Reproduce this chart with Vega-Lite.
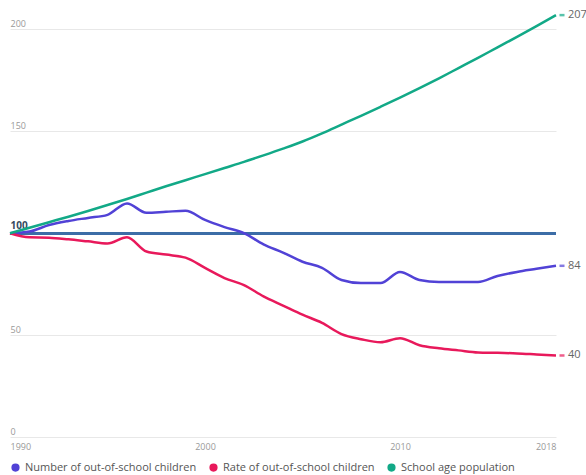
{
  "$schema": "https://vega.github.io/schema/vega-lite/v6.json",
  "autosize": "none",
  "width": 546,
  "height": 428,
  "padding": {"left": 10, "top": 9, "right": 30, "bottom": 38},
  "config": {
    "font": "Open Sans",
    "view": {"stroke": null},
    "axisY": {
      "title": null,
      "grid": true,
      "gridColor": {"condition": {"test": "datum.value === 100", "value": "transparent"}, "value": "#e8e8e8"},
      "gridWidth": 1,
      "domain": false, "ticks": false, "tickSize": 0,
      "labelAlign": "left", "labelBaseline": "bottom", "labelPadding": 0,
      "labelOffset": {"condition": {"test": "datum.value === 100", "value": -3}, "value": -1},
      "labelFontSize": {"condition": {"test": "datum.value === 100", "value": 10}, "value": 9},
      "labelColor": {"condition": {"test": "datum.value === 100", "value": "#34495e"}, "value": "#999999"},
      "labelFontWeight": {"condition": {"test": "datum.value === 100", "value": "bold"}, "value": "normal"},
      "zindex": 1
    }
  },
  "data": {
    "values": [
      {"year": 1990, "series": "Number of out-of-school children", "value": 100},
      {"year": 1991, "series": "Number of out-of-school children", "value": 100.8},
      {"year": 1992, "series": "Number of out-of-school children", "value": 104},
      {"year": 1993, "series": "Number of out-of-school children", "value": 106},
      {"year": 1994, "series": "Number of out-of-school children", "value": 107.5},
      {"year": 1995, "series": "Number of out-of-school children", "value": 109},
      {"year": 1996, "series": "Number of out-of-school children", "value": 114.6},
      {"year": 1997, "series": "Number of out-of-school children", "value": 110},
      {"year": 1998, "series": "Number of out-of-school children", "value": 110.5},
      {"year": 1999, "series": "Number of out-of-school children", "value": 111},
      {"year": 2000, "series": "Number of out-of-school children", "value": 106.5},
      {"year": 2001, "series": "Number of out-of-school children", "value": 103},
      {"year": 2002, "series": "Number of out-of-school children", "value": 100},
      {"year": 2003, "series": "Number of out-of-school children", "value": 94.5},
      {"year": 2004, "series": "Number of out-of-school children", "value": 90.5},
      {"year": 2005, "series": "Number of out-of-school children", "value": 86},
      {"year": 2006, "series": "Number of out-of-school children", "value": 83},
      {"year": 2007, "series": "Number of out-of-school children", "value": 77},
      {"year": 2008, "series": "Number of out-of-school children", "value": 75.5},
      {"year": 2009, "series": "Number of out-of-school children", "value": 75.5},
      {"year": 2010, "series": "Number of out-of-school children", "value": 81},
      {"year": 2011, "series": "Number of out-of-school children", "value": 77},
      {"year": 2012, "series": "Number of out-of-school children", "value": 76},
      {"year": 2013, "series": "Number of out-of-school children", "value": 76},
      {"year": 2014, "series": "Number of out-of-school children", "value": 76},
      {"year": 2015, "series": "Number of out-of-school children", "value": 79},
      {"year": 2016, "series": "Number of out-of-school children", "value": 81},
      {"year": 2017, "series": "Number of out-of-school children", "value": 82.5},
      {"year": 2018, "series": "Number of out-of-school children", "value": 84},
      {"year": 1990, "series": "Rate of out-of-school children", "value": 100},
      {"year": 1991, "series": "Rate of out-of-school children", "value": 98},
      {"year": 1992, "series": "Rate of out-of-school children", "value": 97.8},
      {"year": 1993, "series": "Rate of out-of-school children", "value": 97},
      {"year": 1994, "series": "Rate of out-of-school children", "value": 96},
      {"year": 1995, "series": "Rate of out-of-school children", "value": 95},
      {"year": 1996, "series": "Rate of out-of-school children", "value": 98},
      {"year": 1997, "series": "Rate of out-of-school children", "value": 91},
      {"year": 1998, "series": "Rate of out-of-school children", "value": 89.5},
      {"year": 1999, "series": "Rate of out-of-school children", "value": 88},
      {"year": 2000, "series": "Rate of out-of-school children", "value": 83},
      {"year": 2001, "series": "Rate of out-of-school children", "value": 78},
      {"year": 2002, "series": "Rate of out-of-school children", "value": 74.5},
      {"year": 2003, "series": "Rate of out-of-school children", "value": 69},
      {"year": 2004, "series": "Rate of out-of-school children", "value": 64.5},
      {"year": 2005, "series": "Rate of out-of-school children", "value": 60},
      {"year": 2006, "series": "Rate of out-of-school children", "value": 56},
      {"year": 2007, "series": "Rate of out-of-school children", "value": 50.5},
      {"year": 2008, "series": "Rate of out-of-school children", "value": 48},
      {"year": 2009, "series": "Rate of out-of-school children", "value": 46.5},
      {"year": 2010, "series": "Rate of out-of-school children", "value": 48.5},
      {"year": 2011, "series": "Rate of out-of-school children", "value": 45},
      {"year": 2012, "series": "Rate of out-of-school children", "value": 43.5},
      {"year": 2013, "series": "Rate of out-of-school children", "value": 42.5},
      {"year": 2014, "series": "Rate of out-of-school children", "value": 41.5},
      {"year": 2015, "series": "Rate of out-of-school children", "value": 41.3},
      {"year": 2016, "series": "Rate of out-of-school children", "value": 41},
      {"year": 2017, "series": "Rate of out-of-school children", "value": 40.5},
      {"year": 2018, "series": "Rate of out-of-school children", "value": 40},
      {"year": 1990, "series": "School age population", "value": 100},
      {"year": 1991, "series": "School age population", "value": 102.7},
      {"year": 1992, "series": "School age population", "value": 105.4},
      {"year": 1993, "series": "School age population", "value": 108.1},
      {"year": 1994, "series": "School age population", "value": 110.9},
      {"year": 1995, "series": "School age population", "value": 113.8},
      {"year": 1996, "series": "School age population", "value": 116.8},
      {"year": 1997, "series": "School age population", "value": 119.9},
      {"year": 1998, "series": "School age population", "value": 123},
      {"year": 1999, "series": "School age population", "value": 126},
      {"year": 2000, "series": "School age population", "value": 129},
      {"year": 2001, "series": "School age population", "value": 132},
      {"year": 2002, "series": "School age population", "value": 135},
      {"year": 2003, "series": "School age population", "value": 138.2},
      {"year": 2004, "series": "School age population", "value": 141.5},
      {"year": 2005, "series": "School age population", "value": 145},
      {"year": 2006, "series": "School age population", "value": 149},
      {"year": 2007, "series": "School age population", "value": 153.3},
      {"year": 2008, "series": "School age population", "value": 157.6},
      {"year": 2009, "series": "School age population", "value": 162},
      {"year": 2010, "series": "School age population", "value": 166.5},
      {"year": 2011, "series": "School age population", "value": 171.2},
      {"year": 2012, "series": "School age population", "value": 176},
      {"year": 2013, "series": "School age population", "value": 181},
      {"year": 2014, "series": "School age population", "value": 186},
      {"year": 2015, "series": "School age population", "value": 191.2},
      {"year": 2016, "series": "School age population", "value": 196.3},
      {"year": 2017, "series": "School age population", "value": 201.6},
      {"year": 2018, "series": "School age population", "value": 207}
    ]
  },
  "layer": [
    {
      "mark": {"type": "rule", "color": "#3c6ea6", "strokeWidth": 2},
      "encoding": {
        "y": {"datum": 100, "type": "quantitative", "scale": {"domain": [0, 210], "nice": false}, "axis": {"title": null, "values": [0, 50, 100, 150, 200]}}
      }
    },
    {
      "mark": {"type": "line", "strokeWidth": 2.5, "interpolate": "monotone"},
      "encoding": {
        "x": {
          "field": "year", "type": "quantitative",
          "scale": {"domain": [1990, 2018], "nice": false, "zero": false},
          "axis": {
            "title": null, "values": [1990, 2000, 2010, 2018], "format": "d",
            "labelFlush": true, "grid": false, "domain": false, "ticks": false,
            "labelPadding": 5, "labelColor": "#999999", "labelFontSize": 9
          }
        },
        "y": {
          "field": "value", "type": "quantitative",
          "scale": {"domain": [0, 210], "nice": false},
          "axis": {"title": null, "values": [0, 50, 100, 150, 200]}
        },
        "color": {
          "field": "series", "type": "nominal",
          "scale": {
            "domain": ["Number of out-of-school children", "Rate of out-of-school children", "School age population"],
            "range": ["#5142d6", "#e8195b", "#12a987"]
          },
          "legend": {
            "title": null, "orient": "bottom", "direction": "horizontal",
            "symbolType": "circle", "symbolSize": 45, "labelFontSize": 11, "labelLimit": 400,
            "labelColor": "#555555", "columnPadding": 10, "offset": 11, "symbolOpacity": 1
          }
        }
      }
    },
    {
      "transform": [{"filter": "datum.year == 2018"}],
      "mark": {"type": "tick", "orient": "horizontal", "size": 5, "thickness": 2.5, "xOffset": 6},
      "encoding": {
        "x": {"field": "year", "type": "quantitative"},
        "y": {"field": "value", "type": "quantitative"},
        "color": {"field": "series", "type": "nominal", "legend": null}
      }
    },
    {
      "transform": [{"filter": "datum.year == 2018"}],
      "mark": {"type": "text", "align": "left", "baseline": "middle", "dx": 12, "fontSize": 11, "color": "#666666"},
      "encoding": {
        "x": {"field": "year", "type": "quantitative"},
        "y": {"field": "value", "type": "quantitative"},
        "text": {"field": "value", "type": "quantitative", "format": ".0f"}
      }
    }
  ]
}
